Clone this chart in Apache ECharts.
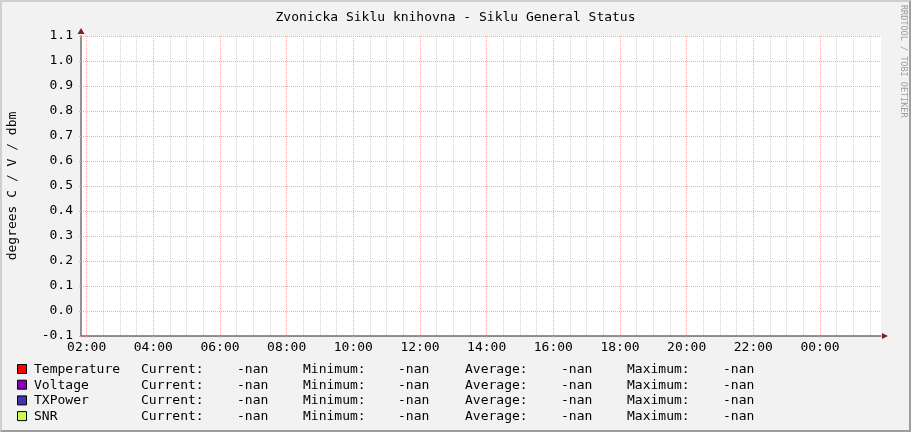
<!DOCTYPE html>
<html>
<head>
<meta charset="utf-8">
<script src="https://cdn.jsdelivr.net/npm/echarts@6/dist/echarts.min.js"></script>
<style>
body { margin: 0; background: #f2f2f2; }
#wrap { position: relative; width: 911px; height: 432px; }
#main { width: 911px; height: 432px; }
#frame { position: absolute; left: 0; top: 0; width: 911px; height: 432px; box-sizing: border-box;
  border-top: 2px solid #cfcfcf; border-left: 2px solid #cfcfcf;
  border-right: 2px solid #9e9e9e; border-bottom: 2px solid #9e9e9e; pointer-events: none; }
</style>
</head>
<body>
<div id="wrap"><div id="main"></div><div id="frame"></div></div>
<script>
var seriesNames = ['Temperature', 'Voltage', 'TXPower', 'SNR'];
var seriesColors = ['#ff0000', '#8800bb', '#4433aa', '#ccff44'];

// the rrd had no samples for this day, every source is empty
var temperatureData = [];
var voltageData = [];
var txpowerData = [];
var snrData = [];

var statLabels = ['Current:', 'Minimum:', 'Average:', 'Maximum:'];
var temperatureStats = [NaN, NaN, NaN, NaN];
var voltageStats = [NaN, NaN, NaN, NaN];
var txpowerStats = [NaN, NaN, NaN, NaN];
var snrStats = [NaN, NaN, NaN, NaN];

// x is hours since midnight of the first day
var hourStart = 1.83;
var hourEnd = 25.83;
var majorHours = [2, 4, 6, 8, 10, 12, 14, 16, 18, 20, 22, 24];
var hourLabels = ['02:00', '04:00', '06:00', '08:00', '10:00', '12:00', '14:00', '16:00', '18:00', '20:00', '22:00', '00:00'];
// half hours and odd hours, the 2h lines are drawn by the major axis
var minorHours = [2.5, 3, 3.5, 4.5, 5, 5.5, 6.5, 7, 7.5, 8.5, 9, 9.5, 10.5, 11, 11.5,
  12.5, 13, 13.5, 14.5, 15, 15.5, 16.5, 17, 17.5, 18.5, 19, 19.5, 20.5, 21, 21.5,
  22.5, 23, 23.5, 24.5, 25, 25.5];

var yMin = -0.1, yMax = 1.1, yStep = 0.1;

var allData = [temperatureData, voltageData, txpowerData, snrData];
var allStats = [temperatureStats, voltageStats, txpowerStats, snrStats];

var mono = 'DejaVu Sans Mono';
var axisGrey = '#707070';
var arrowRed = '#801f1f';
var mgrid = '#f2acac';
var grid = '#d4d4d4';

function fmt(v) {
	return isNaN(v) ? '-nan' : v.toFixed(2);
}

// legend, laid out like rrdtool's fixed-width comment lines
var cols = [141, 237, 303, 398, 465, 561, 627, 723];
var graphics = [];
for (var i = 0; i < seriesNames.length; i++) {
	var rowY = 369.5 + i * 15.7;
	graphics.push({ type: 'rect', shape: { x: 17.5, y: rowY - 5, width: 9, height: 9 },
		style: { fill: seriesColors[i], stroke: '#000', lineWidth: 1 } });
	graphics.push({ type: 'text', x: 34, y: rowY,
		style: { text: seriesNames[i], fill: '#000', font: '13px ' + mono, align: 'left', verticalAlign: 'middle' } });
	for (var j = 0; j < statLabels.length; j++) {
		graphics.push({ type: 'text', x: cols[j * 2], y: rowY,
			style: { text: statLabels[j], fill: '#000', font: '13px ' + mono, align: 'left', verticalAlign: 'middle' } });
		graphics.push({ type: 'text', x: cols[j * 2 + 1], y: rowY,
			style: { text: fmt(allStats[i][j]), fill: '#000', font: '13px ' + mono, align: 'left', verticalAlign: 'middle' } });
	}
}
graphics.push({ type: 'text', x: 903, y: 5, rotation: -Math.PI / 2,
	style: { text: 'RRDTOOL / TOBI OETIKER', fill: '#9c9c9c', font: '8.5px ' + mono, align: 'left', verticalAlign: 'middle' } });

var series = [];
for (var k = 0; k < seriesNames.length; k++) {
	series.push({
		name: seriesNames[k],
		type: 'line',
		xAxisIndex: 1,
		yAxisIndex: 0,
		data: allData[k],
		showSymbol: false,
		lineStyle: { color: seriesColors[k], width: 1 }
	});
}

var myChart = echarts.init(document.getElementById('main'));
var option = {
	animation: false,
	backgroundColor: 'transparent',
	title: {
		text: 'Zvonicka Siklu knihovna - Siklu General Status',
		left: 'center',
		top: 6,
		textStyle: { fontFamily: mono, fontSize: 13, fontWeight: 'normal', color: '#000' }
	},
	grid: {
		left: 81, right: 30, top: 36, bottom: 96,
		outerBoundsMode: 'none',
		show: true, backgroundColor: '#fff', borderWidth: 0
	},
	xAxis: [
		{
			// minor grid every 30 min, also carries the arrow
			type: 'value', min: hourStart, max: hourEnd, position: 'bottom', z: 1,
			axisLine: { show: true, onZero: false, symbol: ['none', 'triangle'], symbolSize: [6, 6], symbolOffset: [0, 4],
				lineStyle: { color: arrowRed, width: 0 } },
			axisTick: { show: false, customValues: minorHours },
			axisLabel: { show: false, customValues: minorHours },
			splitLine: { show: true, lineStyle: { color: grid, type: [1, 1], width: 1 } }
		},
		{
			type: 'value', min: hourStart, max: hourEnd, position: 'bottom', z: 2,
			axisLine: { show: true, onZero: false, lineStyle: { color: axisGrey, width: 1.5 } },
			axisTick: { show: true, customValues: majorHours, length: 2, lineStyle: { color: mgrid } },
			axisLabel: {
				customValues: majorHours,
				margin: 5,
				color: '#000', fontFamily: mono, fontSize: 13,
				formatter: function (v) {
					var idx = majorHours.indexOf(v);
					return idx < 0 ? '' : hourLabels[idx];
				}
			},
			splitLine: { show: true, lineStyle: { color: mgrid, type: [1, 1], width: 1 } }
		}
	],
	yAxis: [
		{
			type: 'value', min: yMin, max: yMax, interval: yStep, z: 2,
			name: 'degrees C / V / dbm',
			nameLocation: 'middle', nameGap: 62, nameRotate: 90,
			nameTextStyle: { fontFamily: mono, fontSize: 13, color: '#000' },
			axisLine: { show: true, onZero: false, lineStyle: { color: axisGrey, width: 1.5 } },
			axisTick: { show: true, length: 2, lineStyle: { color: mgrid } },
			axisLabel: {
				margin: 8, color: '#000', fontFamily: mono, fontSize: 13,
				formatter: function (v) { return v.toFixed(1); }
			},
			splitLine: { show: true, lineStyle: { color: mgrid, type: [1, 1], width: 1 } }
		},
		{
			type: 'value', min: yMin, max: yMax, interval: yStep, position: 'left', z: 3,
			axisLine: { show: true, onZero: false, symbol: ['none', 'triangle'], symbolSize: [7, 6], symbolOffset: [0, 5],
				lineStyle: { color: arrowRed, width: 0 } },
			axisTick: { show: false },
			axisLabel: { show: false },
			splitLine: { show: false }
		}
	],
	graphic: graphics,
	series: series
};
myChart.setOption(option);
</script>
</body>
</html>
